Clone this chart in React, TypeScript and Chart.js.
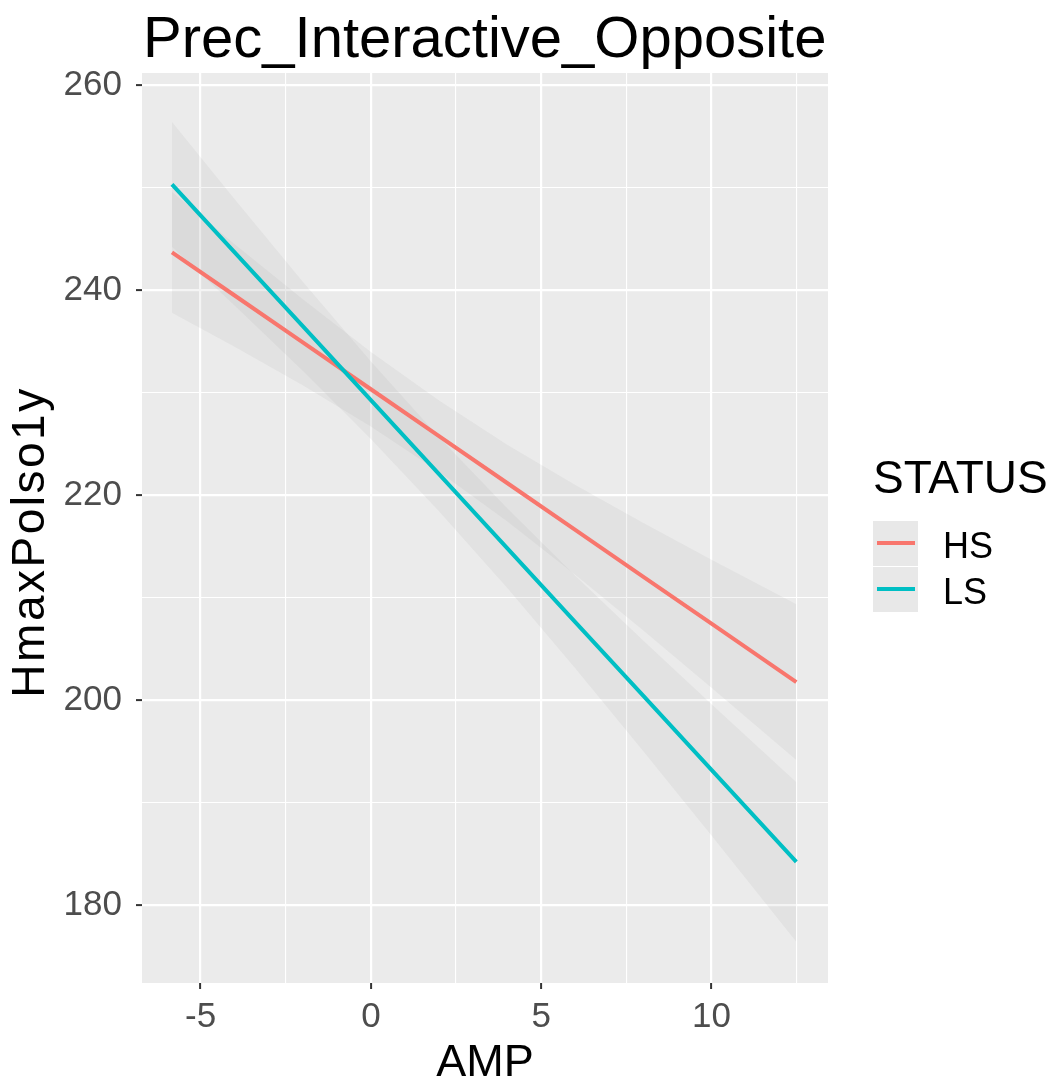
import { useEffect, useRef } from "react";
import { Chart, registerables } from "chart.js";

Chart.register(...registerables);

// AMP values at which the fitted lines and their confidence bands are evaluated
const amp = [-5.84, -4, -2, 0, 2, 4, 6, 8, 10, 12.49];

// STATUS = HS
const hsFit = [243.7, 239.49, 234.92, 230.34, 225.76, 221.19, 216.61, 212.04, 207.46, 201.76];
const hsLower = [237.81, 234.49, 230.73, 226.71, 222.29, 217.45, 212.23, 206.79, 201.21, 194.16];
const hsUpper = [249.59, 244.49, 239.11, 233.97, 229.23, 224.93, 220.99, 217.29, 213.71, 209.36];

// STATUS = LS
const lsFit = [250.34, 243.7, 236.49, 229.27, 222.05, 214.84, 207.62, 200.41, 193.19, 184.21];
const lsLower = [244.25, 238.52, 232.14, 225.49, 218.44, 210.96, 203.11, 195.02, 186.79, 176.43];
const lsUpper = [256.43, 248.88, 240.84, 233.05, 225.66, 218.72, 212.13, 205.8, 199.59, 191.99];

// Axis breaks
const xMajor = [-5, 0, 5, 10];
const xMinor = [-2.5, 2.5, 7.5, 12.5];
const yMajor = [180, 200, 220, 240, 260];
const yMinor = [190, 210, 230, 250];

const TITLE = "Prec_Interactive_Opposite";
const X_TITLE = "AMP";
const Y_TITLE = "HmaxPolso1y";
const LEGEND_TITLE = "STATUS";
const groups = ["HS", "LS"];

const HS_COLOR = "#F8766D";
const LS_COLOR = "#00BFC4";
const BAND_FILL = "rgba(153,153,153,0.11)";
const PANEL_BG = "#EBEBEB";
const FONT = "'Liberation Sans', Arial, Helvetica, sans-serif";

const W = 1060;
const H = 1086;

const pts = (ys: number[]) => amp.map((x, i) => ({ x, y: ys[i] }));

const tickList = (major: number[], minor: number[]) =>
  [...major, ...minor].sort((a, b) => a - b).map((value) => ({ value }));

const panelPlugin = {
  id: "panelBackground",
  beforeDraw(chart: any) {
    const { ctx, chartArea } = chart;
    ctx.save();
    ctx.fillStyle = "#FFFFFF";
    ctx.fillRect(0, 0, chart.width, chart.height);
    ctx.fillStyle = PANEL_BG;
    ctx.fillRect(
      chartArea.left,
      chartArea.top,
      chartArea.right - chartArea.left,
      chartArea.bottom - chartArea.top
    );
    ctx.restore();
  },
};

const annotationPlugin = {
  id: "titleAndLegend",
  afterDraw(chart: any) {
    const { ctx, chartArea } = chart;
    ctx.save();
    // plot title, left-aligned with the panel
    ctx.fillStyle = "#000000";
    ctx.font = `58px ${FONT}`;
    ctx.textAlign = "left";
    ctx.textBaseline = "alphabetic";
    ctx.fillText(TITLE, chartArea.left + 1, 57);

    // vertical axis title
    ctx.save();
    ctx.translate(31.5, 542);
    ctx.rotate(-Math.PI / 2);
    ctx.font = `46px ${FONT}`;
    (ctx as any).letterSpacing = "2.5px";
    ctx.textAlign = "center";
    ctx.textBaseline = "middle";
    ctx.fillText(Y_TITLE, 0, 0);
    ctx.restore();

    // legend
    ctx.fillStyle = "#000000";
    ctx.font = `46px ${FONT}`;
    ctx.textAlign = "left";
    ctx.textBaseline = "alphabetic";
    ctx.fillText(LEGEND_TITLE, 873, 493);
    const colors = [HS_COLOR, LS_COLOR];
    const keyX = 873;
    const keyW = 45;
    const keyH = 46;
    const keyTop = 521;
    groups.forEach((g, i) => {
      const y0 = keyTop + i * keyH;
      ctx.fillStyle = "#F2F2F2";
      ctx.fillRect(keyX, y0, keyW, keyH - 1);
      ctx.fillStyle = BAND_FILL;
      ctx.fillRect(keyX, y0, keyW, keyH - 1);
      ctx.strokeStyle = colors[i];
      ctx.lineWidth = 4;
      ctx.lineCap = "butt";
      ctx.beginPath();
      ctx.moveTo(keyX + 4, y0 + keyH / 2 - 1);
      ctx.lineTo(keyX + keyW - 3, y0 + keyH / 2 - 1);
      ctx.stroke();
      ctx.fillStyle = "#000000";
      ctx.font = `36px ${FONT}`;
      ctx.fillText(g, 943, y0 + 37);
    });
    ctx.restore();
  },
};

const isIn = (arr: number[], v: number) => arr.some((a) => Math.abs(a - v) < 1e-9);

export default function App() {
  const canvasRef = useRef<HTMLCanvasElement | null>(null);

  useEffect(() => {
    const canvas = canvasRef.current;
    if (!canvas) return;

    const lineStyle = (color: string) => ({
      borderColor: color,
      backgroundColor: color,
      borderWidth: 4,
      pointRadius: 0,
      fill: false,
      tension: 0,
    });
    const bandStyle = {
      borderWidth: 0,
      borderColor: "rgba(0,0,0,0)",
      backgroundColor: BAND_FILL,
      pointRadius: 0,
      tension: 0,
    };

    const chart = new Chart(canvas, {
      type: "line",
      data: {
        datasets: [
          { label: "LS", data: pts(lsFit), ...lineStyle(LS_COLOR) },
          { label: "HS", data: pts(hsFit), ...lineStyle(HS_COLOR) },
          { label: "HS upper", data: pts(hsUpper), ...bandStyle, fill: "+1" },
          { label: "HS lower", data: pts(hsLower), ...bandStyle, fill: false },
          { label: "LS upper", data: pts(lsUpper), ...bandStyle, fill: "+1" },
          { label: "LS lower", data: pts(lsLower), ...bandStyle, fill: false },
        ] as any,
      },
      options: {
        animation: false,
        responsive: false,
        devicePixelRatio: 1,
        events: [],
        layout: { padding: { top: 73, right: 232, left: 0, bottom: 0 } },
        plugins: {
          legend: { display: false },
          title: { display: false },
          tooltip: { enabled: false },
          filler: { drawTime: "beforeDatasetsDraw" },
        } as any,
        scales: {
          x: {
            type: "linear",
            min: -6.72,
            max: 13.42,
            afterBuildTicks: (s: any) => {
              s.ticks = tickList(xMajor, xMinor);
            },
            afterFit: (s: any) => {
              s.height = 103;
            },
            border: { display: false },
            grid: {
              color: "#FFFFFF",
              lineWidth: (c: any) => (isIn(xMajor, c.tick?.value) ? 2.2 : 1.1),
              tickColor: (c: any) => (isIn(xMajor, c.tick?.value) ? "#333333" : "rgba(0,0,0,0)"),
              tickLength: 6,
              tickWidth: 2,
            },
            ticks: {
              autoSkip: false,
              maxRotation: 0,
              padding: 7,
              color: "#4D4D4D",
              font: { family: FONT, size: 35 },
              callback: (v: any) => (isIn(xMajor, Number(v)) ? String(v) : ""),
            },
            title: {
              display: true,
              text: X_TITLE,
              color: "#000000",
              font: { family: FONT, size: 45, lineHeight: 1 },
              padding: { top: 0, bottom: 0 },
            },
          },
          y: {
            type: "linear",
            min: 172.4,
            max: 261.2,
            afterBuildTicks: (s: any) => {
              s.ticks = tickList(yMajor, yMinor);
            },
            afterFit: (s: any) => {
              s.width = 142;
            },
            border: { display: false },
            grid: {
              color: "#FFFFFF",
              lineWidth: (c: any) => (isIn(yMajor, c.tick?.value) ? 2.2 : 1.1),
              tickColor: (c: any) => (isIn(yMajor, c.tick?.value) ? "#333333" : "rgba(0,0,0,0)"),
              tickLength: 6,
              tickWidth: 2,
            },
            ticks: {
              autoSkip: false,
              padding: 14,
              color: "#4D4D4D",
              font: { family: FONT, size: 35 },
              callback: (v: any) => (isIn(yMajor, Number(v)) ? String(v) : ""),
            },
            title: { display: false },
          },
        },
      } as any,
      plugins: [panelPlugin, annotationPlugin],
    });

    return () => chart.destroy();
  }, []);

  return (
    <div style={{ position: "absolute", left: 0, top: 0, width: W, height: H }}>
      <canvas ref={canvasRef} width={W} height={H} style={{ display: "block" }} />
    </div>
  );
}
